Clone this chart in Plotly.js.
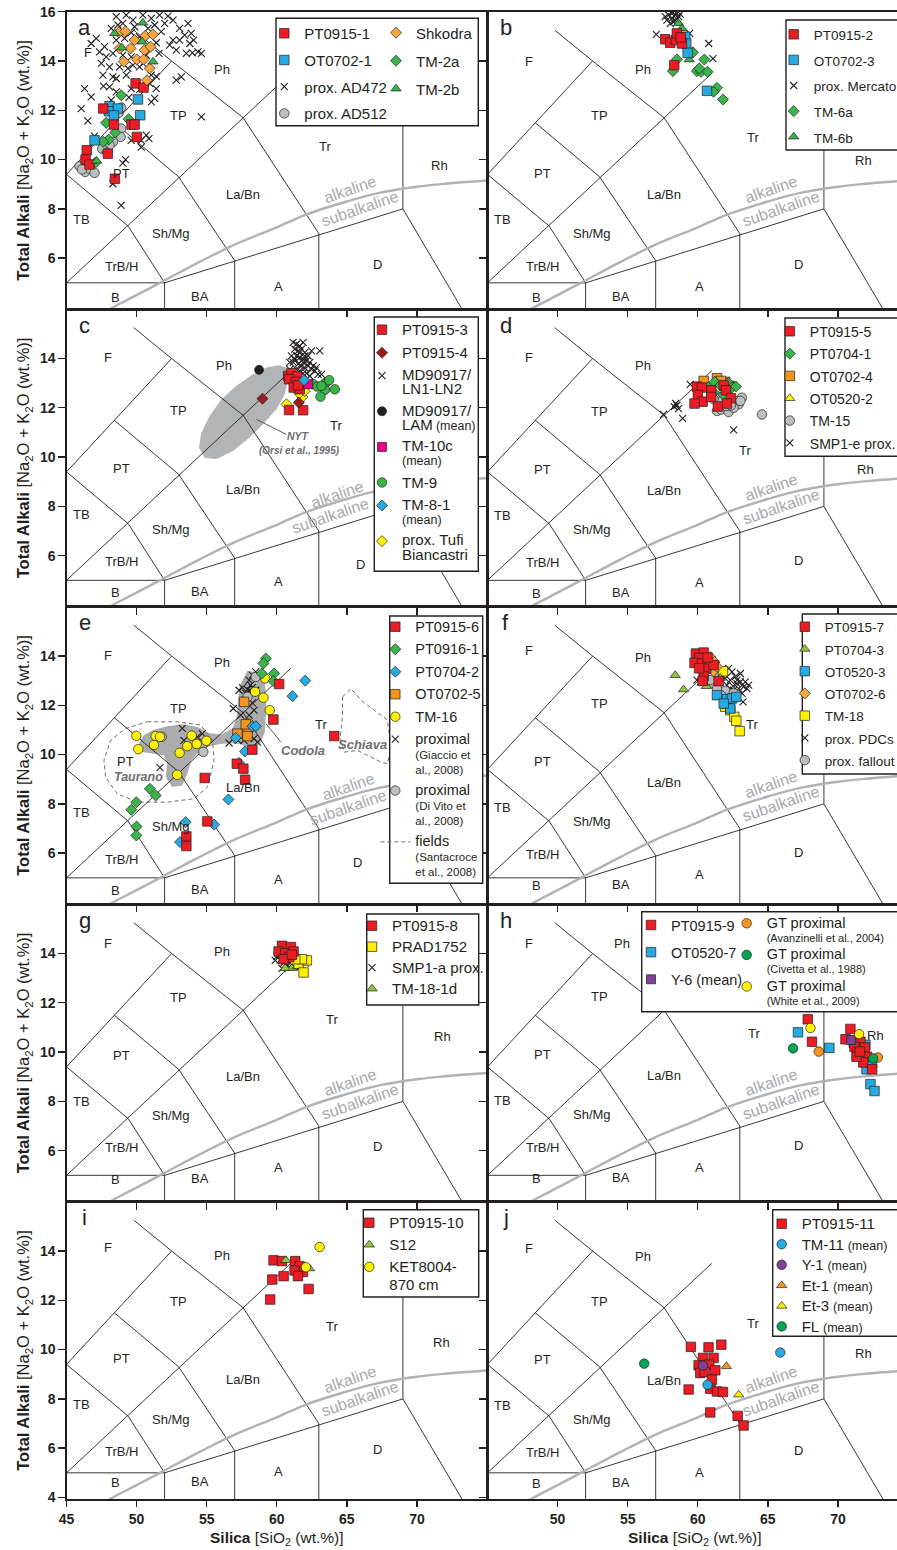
<!DOCTYPE html>
<html><head><meta charset="utf-8">
<script src="https://cdn.plot.ly/plotly-3.0.1.min.js"></script>
<style>html,body{margin:0;padding:0;overflow:hidden;background:#fff}#chart{width:930px;height:1550px}</style>
</head><body><div id="chart"></div>
<script>
// ===================== TAS template (Le Bas et al., 1986) =====================
const TAS_X = [45,49.4,52,null, 45,61,null, 45,52,69,null, 52,52,null, 57,57,null, 63,63,null, 69,69,null, 69,77.3,null, 45,48.4,52.5,49.8,null, 48.4,53,57,null, 52.5,57.6,63];
const TAS_Y = [9.4,7.3,5,null, 5,13.5,null, 5,5,8,null, 0,5,null, 0,5.9,null, 0,7,null, 8,13,null, 8,0,null, 9.4,11.5,14,15.25,null, 11.5,9.3,5.9,null, 14,11.7,7];
// alkaline / subalkaline divide
const ALK_X = [47.5,48.3,50,52,54.5,57,60,62,65,67.3,70,72,75,77];
const ALK_Y = [3.75,4.0,4.5,5.1,5.85,6.55,7.25,7.75,8.3,8.65,8.9,9.02,9.15,9.22];
const FIELD_NAMES = ['F','Ph','TP','PT','TB','Sh/Mg','TrB/H','B','BA','A','La/Bn','Tr','Rh','D'];
const FIELD_SIO2  = [47.93,56.12,53.0,48.9,46.1,52.45,48.9,48.48,54.5,60.1,57.6,63.9,71.8,67.2];
const FIELD_ALK   = [13.96,13.64,11.79,9.44,7.58,7.0,5.68,4.42,4.46,4.87,8.6,10.9,9.96,5.76];
const PANEL_LETTERS = ['a','b','c','d','e','f','g','h','i','j'];

// ===================== panel a =====================
const a_PT0915_1 = [[49.93,13.09],[50.5,12.92],[47.62,12.07],[48.38,11.42],[49.64,11.42],[49.86,11.42],[50.02,10.92],[46.45,10.38],[47.95,10.24],[46.36,10.0],[46.64,9.8],[48.45,9.22]];
const a_OT0702_1 = [[50.1,12.44],[48.07,12.17],[48.02,11.96],[48.67,12.07],[48.38,11.79],[50.26,11.8],[47.0,10.78]];
const a_AD472 = [[48.55,15.8],[49.26,15.86],[49.74,15.66],[50.45,15.86],[51.05,15.73],[51.64,15.86],[52.24,15.82],[52.6,15.66],[51.76,15.19],[53.07,15.32],[53.67,15.53],[53.43,15.05],[53.9,15.12],[52.6,14.85],[53.07,14.85],[52.36,14.64],[52.83,14.44],[53.55,14.31],[53.98,14.33],[54.38,14.37],[54.62,14.31],[53.79,14.71],[54.07,14.85],[47.12,14.92],[46.76,14.71],[46.29,12.88],[46.76,12.54],[46.05,12.07],[46.52,11.57],[47.36,14.37],[47.83,14.17],[47.48,13.9],[48.07,13.76],[47.6,13.43],[48.31,13.36],[47.64,12.98],[48.07,12.95],[48.55,12.75],[49.45,12.52],[49.62,12.88],[50.21,12.84],[51.4,12.88],[51.29,12.48],[51.05,12.34],[49.62,10.78],[50.33,10.51],[50.69,10.99],[50.88,10.85],[50.33,10.78],[49.21,10.0],[49.02,9.86],[48.31,9.02],[48.9,8.14],[47.0,10.95],[52.83,13.22],[53.19,13.36],[54.62,11.73],[50.93,13.09],[49.98,13.15],[51.05,13.43],[51.4,13.38],[49.26,13.43],[48.79,13.76],[49.38,13.7],[49.74,13.83],[50.21,13.76],[48.31,14.31],[49.02,14.24],[49.62,14.17],[50.69,14.24],[50.45,13.9],[48.55,14.85],[49.14,14.92],[50.21,14.98],[50.81,15.32],[49.86,15.39],[49.02,15.53],[48.19,15.32],[47.71,14.58],[48.67,15.46],[49.62,15.15],[51.29,15.46],[52.0,15.53],[51.4,14.74],[51.6,14.31],[48.55,13.29],[48.19,12.41]];
const a_AD512 = [[48.9,12.11],[48.71,11.89],[48.9,11.26],[48.86,10.92],[48.31,10.72],[48.07,10.58],[47.55,10.44],[45.93,9.73],[46.33,9.5],[46.64,9.63],[47.0,9.46],[46.1,9.6]];
const a_Shkodra = [[48.74,15.16],[49.2,15.2],[50.62,15.02],[51.17,15.08],[49.86,14.85],[48.79,14.51],[49.57,14.51],[50.57,14.44],[51.0,14.58],[49.1,13.97],[50.02,14.06],[50.5,14.06],[50.93,13.7],[50.74,13.22]];
const a_TM_2a = [[48.9,12.61],[49.43,11.64],[47.83,11.49],[48.48,11.1],[48.0,10.81],[47.62,10.72],[47.88,10.3],[47.07,9.88]];
const a_TM_2b = [[50.45,15.55],[48.43,15.12],[50.4,14.78],[51.17,13.97],[48.95,14.54],[47.15,9.95]];
// ===================== panel b =====================
const b_PT0915_2 = [[57.68,14.88],[58.04,14.74],[58.44,14.85],[58.87,14.71],[58.51,15.12],[58.78,14.96],[58.32,13.83]];
const b_OT0702_3 = [[59.11,14.98],[59.18,14.71],[59.28,14.33],[60.66,12.79]];
const b_Mercato = [[57.68,15.8],[57.92,15.86],[58.16,15.73],[58.39,15.86],[58.63,15.8],[58.27,15.59],[58.04,15.53],[58.51,15.93],[58.23,15.96],[58.75,15.9],[57.8,15.66],[58.39,15.66],[58.1,15.95],[58.5,15.7],[57.04,15.08],[60.78,14.71],[61.08,14.1],[59.42,15.12]];
const b_TM_6a = [[58.51,14.06],[59.66,14.35],[60.47,14.06],[59.94,13.59],[60.23,13.56],[60.7,13.56],[60.11,13.7],[58.23,13.59],[61.37,12.91],[61.13,12.75],[61.8,12.44]];
const b_TM_6b = [[59.39,14.06],[58.63,15.53],[58.87,15.32]];
// ===================== panel c =====================
const c_PT0915_3 = [[60.81,13.29],[61.05,13.4],[61.45,13.27],[60.88,13.16],[61.36,13.05],[61.21,12.82],[61.64,12.75],[60.88,11.91],[61.88,11.9],[61.52,12.91]];
const c_PT0915_4 = [[58.98,12.37],[61.57,12.21]];
const c_LN = [[61.17,14.65],[61.4,14.58],[61.64,14.51],[61.88,14.65],[61.29,14.38],[61.52,14.31],[61.76,14.38],[62.0,14.24],[62.48,14.31],[63.07,14.31],[61.05,14.11],[61.4,14.11],[61.64,14.04],[61.88,13.97],[62.12,13.9],[62.36,13.84],[61.17,13.84],[61.52,13.77],[61.76,13.7],[62.0,13.63],[62.24,13.7],[62.48,13.56],[62.71,13.5],[62.95,13.36],[60.93,13.56],[61.4,13.56],[61.64,13.5],[61.88,13.4],[62.12,13.4],[62.36,13.29],[61.29,13.97],[61.64,14.24],[62.0,14.11],[62.24,14.11],[62.6,13.7],[62.83,13.63],[63.19,13.36],[60.93,13.84],[61.88,13.84]];
const c_LAM = [[58.74,13.54]];
const c_TM_10c = [[62.24,12.96]];
const c_TM_9 = [[62.6,12.96],[62.9,12.86],[63.5,13.02],[63.74,13.12],[63.43,12.73],[64.14,12.75],[63.12,12.45],[63.19,12.89]];
const c_TM_8_1 = [[61.95,13.12]];
const c_Tufi = [[60.69,12.14],[61.83,12.44],[61.6,12.59],[62.0,12.68]];
const NYT_X = [60.69,60.1,59.26,58.31,57.12,56.05,55.21,54.62,54.45,54.86,55.69,56.88,58.07,59.02,59.98,60.57,60.81,60.69];
const NYT_Y = [13.63,13.73,13.63,13.36,12.89,12.35,11.67,10.99,10.38,9.97,9.91,10.25,10.79,11.33,11.94,12.55,13.16,13.63];
const NYT_LEADER_X = [58.55,60.69];
const NYT_LEADER_Y = [11.53,10.92];
// ===================== panel d =====================
const d_PT0915_5 = [[59.94,12.86],[60.3,12.82],[60.01,12.52],[60.35,12.25],[59.77,12.17],[60.96,12.71],[60.96,12.44],[61.44,12.05],[61.85,12.91],[62.01,12.71],[62.37,12.39],[62.08,12.17]];
const d_PT0704_1 = [[60.73,12.82],[61.2,13.05],[61.61,12.91],[61.85,12.52],[62.2,13.0],[62.44,12.82],[62.73,12.86],[61.13,12.62]];
const d_OT0702_4 = [[60.42,13.09],[61.37,13.2],[61.96,13.05],[61.66,13.09],[62.27,12.89]];
const d_OT0520_2 = [[62.44,12.91],[61.25,13.09],[62.08,13.03]];
const d_TM_15 = [[61.49,12.45],[61.37,11.87],[61.66,11.93],[62.2,11.83],[62.04,12.07],[62.68,12.28],[62.92,12.14],[63.15,12.41],[63.04,12.28],[62.56,12.0],[61.73,12.28],[61.13,12.35],[62.37,12.1],[64.58,11.73]];
const d_SMP1e = [[59.46,12.95],[58.51,12.1],[58.32,12.05],[58.63,11.97],[58.42,12.18],[57.56,11.73],[58.92,11.57],[62.56,11.1]];
// ===================== panel e =====================
const e_PT0915_6 = [[60.17,12.86],[59.76,11.42],[64.1,10.75],[58.26,10.2],[57.15,9.63],[57.62,9.43],[57.74,8.98],[54.86,9.05],[55.05,7.29],[53.55,6.68],[53.55,6.29]];
const e_PT0916_1 = [[59.22,13.9],[59.05,13.7],[58.93,13.29],[59.81,13.29],[59.76,12.98],[50.95,8.61],[51.36,8.34],[49.98,8.07],[49.62,7.76],[50.0,7.08],[49.98,6.72]];
const e_PT0704_2 = [[62.03,13.0],[61.12,12.37],[57.07,10.68],[58.26,11.15],[58.5,11.15],[57.74,10.13],[56.55,8.18],[55.53,7.16],[53.5,7.26],[53.1,6.45],[57.31,9.66]];
const e_OT0702_5 = [[57.67,12.14],[57.19,10.85],[57.91,11.06],[57.91,10.75],[57.79,11.23]];
const e_TM_16 = [[59.17,13.09],[58.45,12.55],[59.05,12.31],[59.5,11.8],[58.0,11.26],[58.1,11.06],[49.98,10.76],[51.36,10.75],[51.67,10.72],[50.12,10.22],[51.24,10.39],[53.93,10.77],[53.62,10.34],[54.29,10.43],[54.98,10.56],[53.07,10.07],[52.9,9.18]];
const e_Giaccio = [[57.31,12.61],[57.55,12.72],[57.91,12.64],[58.14,12.82],[58.03,13.02],[58.26,13.22],[58.5,13.36],[57.79,12.48],[56.9,11.87],[58.26,12.1],[58.38,11.8],[58.03,11.6],[57.43,11.6],[57.67,10.58],[58.38,10.65],[58.62,10.51],[56.6,10.47],[57.24,10.58],[53.26,11.06],[54.69,10.85],[53.38,10.58],[54.34,10.72],[51.67,9.47],[58.1,12.59],[58.26,12.72],[58.5,12.61]];
const e_DiVito = [[58.5,13.15],[57.91,12.34],[54.76,10.11],[51.79,10.72]];
const CODOLA_X = [57.91,58.74,59.17,59.26,59.15,58.81,58.1,57.38,56.67,55.88,55.17,54.45,53.9,53.62,53.26,52.55,52.07,52.19,51.95,51.12,50.41,50.17,50.53,51.24,52.19,53.26,54.34,55.17,56.0,56.83,57.15,57.24,57.38,57.91];
const CODOLA_Y = [13.4,13.32,12.88,11.94,10.92,10.42,10.28,10.42,10.47,10.42,10.34,10.11,9.77,9.22,8.75,8.68,9.09,9.63,9.97,10.04,10.11,10.45,10.79,11.01,11.15,11.23,11.12,10.88,10.82,11.05,11.53,12.2,12.82,13.4];
const TAURANO_X = [50.76,52.9,54.57,55.41,55.53,55.05,54.1,52.19,50.05,48.62,47.79,47.67,48.15,49.22,50.76];
const TAURANO_Y = [11.33,11.33,11.2,10.58,9.77,8.68,8.21,8.07,8.07,8.41,9.09,9.77,10.58,11.06,11.33];
const SCHIAVA_X = [64.69,65.29,66.0,66.95,67.9,68.14,67.9,67.43,65.76,64.81,64.53,64.69,64.69];
const SCHIAVA_Y = [12.34,12.68,12.21,11.8,11.4,10.31,9.63,9.7,10.17,10.1,10.71,11.53,12.34];
const CODOLA_LEADER_X = [59.22,60.29];
const CODOLA_LEADER_Y = [11.26,10.51];
// ===================== panel f =====================
const f_PT0915_7 = [[59.87,14.1],[60.42,14.14],[60.11,13.92],[59.77,13.72],[60.3,13.7],[60.61,13.49],[61.13,13.63],[60.42,13.18],[60.35,12.99],[61.49,12.98],[60.7,13.94],[60.1,13.5]];
const f_PT0704_3 = [[58.39,13.22],[58.99,12.64],[60.61,12.77],[61.6,13.1]];
const f_OT0520_3 = [[61.37,12.41],[62.08,12.25],[62.44,12.28],[62.32,11.87],[61.85,12.07],[62.75,12.34]];
const f_OT0702_6 = [[60.89,13.96],[61.2,13.76],[61.13,13.38],[61.37,13.56],[60.8,13.7]];
const f_TM_18 = [[61.8,13.38],[61.96,11.94],[62.32,11.8],[62.61,11.53],[62.75,11.37],[62.99,10.95],[62.08,12.07]];
const f_PDCs = [[62.2,13.5],[62.44,13.36],[62.68,13.16],[62.8,12.88],[63.04,12.95],[63.27,12.75],[63.51,12.68],[63.16,12.48],[62.56,12.61],[62.32,13.02],[61.96,13.09],[62.92,12.68],[63.63,12.82],[63.39,12.95],[63.23,12.14],[59.94,13.02],[60.18,12.95],[61.73,13.22],[62.08,12.82],[62.8,13.02],[63.04,13.29],[62.51,12.78]];
const f_fallout = [[61.13,12.88],[61.49,13.16],[61.96,12.59],[61.66,12.41],[61.37,12.68],[60.89,13.02],[62.56,12.48]];
// ===================== panel g =====================
const g_PT0915_8 = [[60.37,14.31],[61.01,14.26],[60.13,14.08],[60.6,14.01],[61.2,14.08],[60.89,13.85],[60.49,13.77],[61.08,13.95]];
const g_PRAD1752 = [[61.56,13.58],[61.91,13.23],[62.15,13.72],[61.79,13.77],[61.32,13.77]];
const g_SMP1a = [[60.01,13.88],[60.25,13.74],[60.49,13.61],[60.72,13.54],[60.2,13.95],[60.96,13.61],[61.32,13.54],[61.68,13.47],[60.37,13.4],[62.03,13.61],[59.89,13.72]];
const g_TM_18_1d = [[61.08,13.4],[60.6,13.4],[61.44,13.47]];
// ===================== panel h =====================
const h_PT0915_9 = [[67.85,11.33],[68.15,10.42],[70.89,10.94],[70.54,10.52],[71.61,10.42],[71.18,10.22],[71.92,10.19],[71.37,9.98],[72.08,9.81],[71.8,9.58],[72.44,9.3],[71.32,9.81],[71.56,10.02]];
const h_OT0520_7 = [[67.15,10.8],[69.39,10.17],[71.96,10.29],[72.04,9.3],[72.32,8.7],[72.61,8.42],[72.44,9.54],[71.13,10.38]];
const h_Y6 = [[70.94,10.49]];
const h_GT_Avanzinelli = [[68.63,10.02],[72.85,9.78]];
const h_GT_Civetta = [[66.8,10.15],[72.51,9.74]];
const h_GT_White = [[68.04,10.98],[71.51,10.73]];
// ===================== panel i =====================
const i_PT0915_10 = [[59.77,13.62],[60.37,13.59],[61.32,13.59],[61.63,13.38],[61.87,13.15],[61.27,13.21],[61.51,12.98],[60.49,12.98],[59.68,12.84],[59.53,12.03],[62.27,12.46]];
const i_S12 = [[60.65,13.62],[62.34,13.29]];
const i_KET8004 = [[63.06,14.16],[62.08,13.34]];
// ===================== panel j =====================
const j_PT0915_11 = [[59.51,10.11],[60.77,10.09],[61.68,10.2],[60.37,9.66],[61.13,9.66],[60.06,9.36],[60.82,9.39],[61.25,9.16],[60.18,9.05],[60.49,9.09],[61.01,8.78],[60.89,8.41],[61.37,8.3],[61.8,8.28],[59.35,8.38],[60.89,7.45],[62.85,7.31],[63.27,6.92]];
const j_TM_11 = [[65.89,9.88],[60.7,8.57]];
const j_Y1 = [[60.37,9.35]];
const j_Et1 = [[62.04,9.32]];
const j_Et3 = [[62.92,8.17]];
const j_FL = [[56.18,9.43]];

// ===================== styling / layout constants =====================
const W = 930, H = 1550;
const FONT = 'Liberation Sans, Arial, Helvetica, sans-serif';
const INK = '#231f20';
const COL_L = [66.5, 487.5], COL_R = [487, 902];
const PXU = 14.017;
const ROW_TOP = [11.7, 309.2, 606.7, 904.2, 1201.7], ROW_H = 297.5;
const Y_RANGE = [3.93, 16];

const STYLE = {
  redSq:{symbol:'square',color:'#ed1c24',size:9.5}, blueSq:{symbol:'square',color:'#27aae1',size:9.5},
  orangeSq:{symbol:'square',color:'#f7941d',size:9.5}, yellowSq:{symbol:'square',color:'#fff200',size:9.5},
  pinkSq:{symbol:'square',color:'#ec008c',size:9}, purpleSq:{symbol:'square',color:'#7f3f98',size:9},
  greenDi:{symbol:'diamond',color:'#39b54a',size:8.5}, orangeDi:{symbol:'diamond',color:'#f7a541',size:8.5},
  blueDi:{symbol:'diamond',color:'#27aae1',size:8.5}, yellowDi:{symbol:'diamond',color:'#fff200',size:8.5},
  darkredDi:{symbol:'diamond',color:'#9b1c1f',size:8.5},
  grayCi:{symbol:'circle',color:'#bcbec0',size:9.5}, yellowCi:{symbol:'circle',color:'#fff200',size:9.5},
  greenCi:{symbol:'circle',color:'#39b54a',size:9.5}, dkgreenCi:{symbol:'circle',color:'#00a651',size:9.5},
  orangeCi:{symbol:'circle',color:'#f7941d',size:9.5}, blueCi:{symbol:'circle',color:'#29abe2',size:9.5},
  purpleCi:{symbol:'circle',color:'#7f3f98',size:9.5}, blackCi:{symbol:'circle',color:'#231f20',size:9},
  greenTri:{symbol:'triangle-up',color:'#39b54a',size:9}, lgreenTri:{symbol:'triangle-up',color:'#8dc63f',size:9},
  yellowTri:{symbol:'triangle-up',color:'#fff200',size:9}, orangeTri:{symbol:'triangle-up',color:'#f7941d',size:9},
  cross:{symbol:'x-thin',color:INK,size:7,cross:true}
};

// legends: marker position of first entry (px), base font size, group gap, main text size, x nudge
const LEGENDS = {
  La1:{id:'legend',  m:[288.3,33.3],  fs:15,   gap:4.2, ms:15},
  La2:{id:'legend2', m:[400,32.7],    fs:15,   gap:5.5, ms:15},
  Lb: {id:'legend3', m:[801.7,34.3],  fs:15,   gap:3.1, ms:13.5, dx:-4},
  Lc: {id:'legend4', m:[386,329.7],   fs:11,   gap:4,   ms:15},
  Ld: {id:'legend5', m:[797.3,331.3], fs:14.85,gap:0,   ms:14, dx:-3.5},
  Le: {id:'legend6', m:[399.3,626.7], fs:11.5, gap:3.5, ms:14.5},
  Lf: {id:'legend7', m:[812.3,626.7], fs:14.8, gap:0,   ms:13.5, dx:-3.5},
  Lg: {id:'legend8', m:[376,925.7],   fs:13.85,gap:0,   ms:15},
  Lh1:{id:'legend9', m:[655,925],     fs:14.5, gap:5.3, ms:14.5},
  Lh2:{id:'legend10',m:[750.7,923.3], fs:11,   gap:0,   ms:14.5},
  Li: {id:'legend11',m:[373.3,1222.7],fs:13.5, gap:1.5, ms:15},
  Lj: {id:'legend12',m:[785.7,1223.7],fs:13.5, gap:0,   ms:15}
};
const LEGEND_BOXES = [[276,18.3,478.3,125.7],[786,20,935,150],[374.3,317,478.3,571.3],[785,318,935,456.3],
  [389.7,616,482.7,883.3],[802.3,614,935,774],[366.7,914,478.7,1005],[641.7,911.7,935,1011.7],
  [363.3,1209.7,478.7,1297],[772.7,1209.7,935,1336.3]];

const big = (t, lg) => `<span style="font-size:${LEGENDS[lg].ms}px">${t}</span>`;
const sm = (t, s) => `<span style="font-size:${s}px">${t}</span>`;

// series in drawing order: panel, legend name, data, style, legend, rank
const SERIES = [
  [0,big('prox. AD472','La1'),a_AD472,'cross','La1',3],
  [0,big('prox. AD512','La1'),a_AD512,'grayCi','La1',4],
  [0,big('TM-2a','La2'),a_TM_2a,'greenDi','La2',2],
  [0,big('OT0702-1','La1'),a_OT0702_1,'blueSq','La1',2],
  [0,big('PT0915-1','La1'),a_PT0915_1,'redSq','La1',1],
  [0,big('Shkodra','La2'),a_Shkodra,'orangeDi','La2',1],
  [0,big('TM-2b','La2'),a_TM_2b,'greenTri','La2',3],

  [1,big('prox. Mercato','Lb'),b_Mercato,'cross','Lb',3],
  [1,big('TM-6a','Lb'),b_TM_6a,'greenDi','Lb',4],
  [1,big('TM-6b','Lb'),b_TM_6b,'greenTri','Lb',5],
  [1,big('OT0702-3','Lb'),b_OT0702_3,'blueSq','Lb',2],
  [1,big('PT0915-2','Lb'),b_PT0915_2,'redSq','Lb',1],

  [2,big('MD90917/','Lc')+'<br>'+big('LN1-LN2','Lc'),c_LN,'cross','Lc',3],
  [2,big('TM-9','Lc'),c_TM_9,'greenCi','Lc',6],
  [2,big('prox. Tufi','Lc')+'<br>'+big('Biancastri','Lc'),c_Tufi,'yellowDi','Lc',8],
  [2,big('PT0915-3','Lc'),c_PT0915_3,'redSq','Lc',1],
  [2,big('PT0915-4','Lc'),c_PT0915_4,'darkredDi','Lc',2],
  [2,big('MD90917/','Lc')+'<br>'+big('LAM','Lc')+' '+sm('(mean)',12.5),c_LAM,'blackCi','Lc',4],
  [2,big('TM-10c','Lc')+'<br>'+sm('(mean)',12.5),c_TM_10c,'pinkSq','Lc',5],
  [2,big('TM-8-1','Lc')+'<br>'+sm('(mean)',12.5),c_TM_8_1,'blueDi','Lc',7],

  [3,big('TM-15','Ld'),d_TM_15,'grayCi','Ld',5],
  [3,big('SMP1-e prox.','Ld'),d_SMP1e,'cross','Ld',6],
  [3,big('OT0702-4','Ld'),d_OT0702_4,'orangeSq','Ld',3],
  [3,big('OT0520-2','Ld'),d_OT0520_2,'yellowTri','Ld',4],
  [3,big('PT0704-1','Ld'),d_PT0704_1,'greenDi','Ld',2],
  [3,big('PT0915-5','Ld'),d_PT0915_5,'redSq','Ld',1],

  [4,big('proximal','Le')+'<br>(Giaccio et<br>al., 2008)',e_Giaccio,'cross','Le',6],
  [4,big('proximal','Le')+'<br>(Di Vito et<br>al., 2008)',e_DiVito,'grayCi','Le',7],
  [4,big('TM-16','Le'),e_TM_16,'yellowCi','Le',5],
  [4,big('OT0702-5','Le'),e_OT0702_5,'orangeSq','Le',4],
  [4,big('PT0704-2','Le'),e_PT0704_2,'blueDi','Le',3],
  [4,big('PT0916-1','Le'),e_PT0916_1,'greenDi','Le',2],
  [4,big('PT0915-6','Le'),e_PT0915_6,'redSq','Le',1],

  [5,big('prox. PDCs','Lf'),f_PDCs,'cross','Lf',6],
  [5,big('prox. fallout','Lf'),f_fallout,'grayCi','Lf',7],
  [5,big('TM-18','Lf'),f_TM_18,'yellowSq','Lf',5],
  [5,big('OT0520-3','Lf'),f_OT0520_3,'blueSq','Lf',3],
  [5,big('PT0704-3','Lf'),f_PT0704_3,'lgreenTri','Lf',2],
  [5,big('OT0702-6','Lf'),f_OT0702_6,'orangeDi','Lf',4],
  [5,big('PT0915-7','Lf'),f_PT0915_7,'redSq','Lf',1],

  [6,big('SMP1-a prox.','Lg'),g_SMP1a,'cross','Lg',3],
  [6,big('TM-18-1d','Lg'),g_TM_18_1d,'lgreenTri','Lg',4],
  [6,big('PRAD1752','Lg'),g_PRAD1752,'yellowSq','Lg',2],
  [6,big('PT0915-8','Lg'),g_PT0915_8,'redSq','Lg',1],

  [7,big('OT0520-7','Lh1'),h_OT0520_7,'blueSq','Lh1',2],
  [7,big('PT0915-9','Lh1'),h_PT0915_9,'redSq','Lh1',1],
  [7,big('Y-6 (mean)','Lh1'),h_Y6,'purpleSq','Lh1',3],
  [7,big('GT proximal','Lh2')+'<br>(Avanzinelli et al., 2004)',h_GT_Avanzinelli,'orangeCi','Lh2',1],
  [7,big('GT proximal','Lh2')+'<br>(Civetta et al., 1988)',h_GT_Civetta,'dkgreenCi','Lh2',2],
  [7,big('GT proximal','Lh2')+'<br>(White et al., 2009)',h_GT_White,'yellowCi','Lh2',3],

  [8,big('PT0915-10','Li'),i_PT0915_10,'redSq','Li',1],
  [8,big('S12','Li'),i_S12,'lgreenTri','Li',2],
  [8,big('KET8004-','Li')+'<br>'+big('870 cm','Li'),i_KET8004,'yellowCi','Li',3],

  [9,big('PT0915-11','Lj'),j_PT0915_11,'redSq','Lj',1],
  [9,big('TM-11','Lj')+' '+sm('(mean)',12.5),j_TM_11,'blueCi','Lj',2],
  [9,big('Y-1','Lj')+' '+sm('(mean)',12.5),j_Y1,'purpleCi','Lj',3],
  [9,big('Et-1','Lj')+' '+sm('(mean)',12.5),j_Et1,'orangeTri','Lj',4],
  [9,big('Et-3','Lj')+' '+sm('(mean)',12.5),j_Et3,'yellowTri','Lj',5],
  [9,big('FL','Lj')+' '+sm('(mean)',12.5),j_FL,'dkgreenCi','Lj',6]
];

const LABEL_DY = [0,0,0.08,0.06,0.08,0.28,0.43,0.45,0.18,0.15];
const LABEL_MOVE = [
  {F:[46.55,14.35],Tr:[63.45,10.52],Rh:[71.64,9.77]},
  {Tr:[63.95,10.91]},
  {Ph:[56.24,13.7],Tr:[64.2,11.3],D:[65.94,5.63],Rh:null},
  {Tr:[63.4,10.25],Rh:[71.96,9.5]},
  {PT:[49.2,9.7],Tr:[63.15,11.23],D:[65.76,5.64],Rh:null},
  {Tr:[63.9,11.23],Rh:null},
  {Tr:[63.94,11.33],Rh:[71.79,10.63]},
  {Ph:[54.63,14.42],Tr:[64.04,10.76],Rh:[72.68,10.67]},
  {Tr:[63.94,10.95],Rh:[71.75,10.27]},
  {Tr:[63.92,11.05],Rh:[71.85,9.83]}
];
const ALK_LABEL_POS = {def:[[65.2,8.78],[65.95,8.0]], 2:[[64.3,8.49],[63.83,7.65]], 4:[[65.1,8.72],[65.05,7.87]]};

// ===================== build figure =====================
const axId = p => p === 0 ? ['x','y'] : ['x'+(p+1),'y'+(p+1)];
const traces = [];
const layout = {
  width:W, height:H, margin:{l:0,r:0,t:0,b:0}, paper_bgcolor:'#ffffff', plot_bgcolor:'rgba(0,0,0,0)',
  font:{family:FONT,color:INK}, showlegend:true, annotations:[], shapes:[]
};

function panelBackground(p){
  const [xa,ya] = axId(p);
  const base = {xaxis:xa, yaxis:ya, showlegend:false, hoverinfo:'skip'};
  if (p === 2){
    traces.push(Object.assign({type:'scatter',mode:'lines',x:NYT_X,y:NYT_Y,fill:'toself',fillcolor:'#b3b4b6',line:{width:0,color:'#b3b4b6'}},base));
  }
  if (p === 4){
    traces.push(Object.assign({type:'scatter',mode:'lines',x:CODOLA_X,y:CODOLA_Y,fill:'toself',fillcolor:'#abacae',line:{width:0,color:'#abacae'}},base));
    traces.push({type:'scatter',mode:'lines',x:TAURANO_X,y:TAURANO_Y,xaxis:xa,yaxis:ya,line:{color:'#6d6e71',width:1,dash:'4px,3px'},
      name:big('fields','Le')+'<br>(Santacroce<br>et al., 2008)',legend:'legend6',legendgroup:'Le_8',legendrank:8,showlegend:true,hoverinfo:'skip'});
    traces.push(Object.assign({type:'scatter',mode:'lines',x:SCHIAVA_X,y:SCHIAVA_Y,line:{color:'#6d6e71',width:1,dash:'4px,3px'}},base));
  }
  traces.push(Object.assign({type:'scatter',mode:'lines',x:TAS_X,y:TAS_Y,line:{color:INK,width:0.9},connectgaps:false},base));
  traces.push(Object.assign({type:'scatter',mode:'lines',x:ALK_X,y:ALK_Y,line:{color:'#b1b2b4',width:2.4,shape:'spline'}},base));
  if (p === 2) traces.push(Object.assign({type:'scatter',mode:'lines',x:NYT_LEADER_X,y:NYT_LEADER_Y,line:{color:'#58595b',width:1}},base));
  if (p === 4) traces.push(Object.assign({type:'scatter',mode:'lines',x:CODOLA_LEADER_X,y:CODOLA_LEADER_Y,line:{color:'#58595b',width:1}},base));
}
for (let p = 0; p < 10; p++){
  panelBackground(p);
  SERIES.filter(s => s[0] === p).forEach(s => {
    const [, name, data, st, lg, rk] = s;
    const S = STYLE[st], [xa,ya] = axId(p);
    const marker = S.cross
      ? {symbol:S.symbol,size:S.size,color:INK,line:{color:INK,width:1.1}}
      : {symbol:S.symbol,size:S.size,color:S.color,line:{color:INK,width:0.7}};
    traces.push({type:'scatter',mode:'markers',x:data.map(v=>v[0]),y:data.map(v=>v[1]),xaxis:xa,yaxis:ya,
      name:name,marker:marker,legend:LEGENDS[lg].id,legendgroup:lg+'_'+rk,legendrank:rk,showlegend:true,hoverinfo:'skip',cliponaxis:true});
  });
}

// axes
for (let p = 0; p < 10; p++){
  const row = p >> 1, col = p & 1;
  const sfx = p === 0 ? '' : String(p+1);
  const xr = [45, 45 + (COL_R[col]-COL_L[col])/PXU];
  const xa = {domain:[COL_L[col]/W, COL_R[col]/W], range:xr, anchor:'y'+sfx, showgrid:false, zeroline:false,
    showline:true, mirror:true, linecolor:INK, linewidth:1.6, ticks:'outside', ticklen:6.5, tickwidth:1.4, tickcolor:INK,
    tickvals: col === 0 ? [45,50,55,60,65,70] : [50,55,60,65,70], showticklabels: row === 4,
    tickfont:{family:FONT,size:14,color:INK,weight:'bold'}};
  if (row === 4) xa.title = {text:'<b>Silica</b> [SiO<sub>2</sub> (wt.%)]', font:{family:FONT,size:15.5,color:INK}, standoff:6};
  const yv = row === 0 ? [6,8,10,12,14,16] : row === 4 ? [4,6,8,10,12,14] : [6,8,10,12,14];
  const ya = {domain:[1-(ROW_TOP[row]+ROW_H)/H, 1-ROW_TOP[row]/H], range:Y_RANGE, anchor:'x'+sfx, showgrid:false, zeroline:false,
    showline:true, mirror:true, linecolor:INK, linewidth:1.6, ticks:'outside', ticklen:6.5, tickwidth:1.4, tickcolor:INK,
    tickvals:yv, showticklabels: col === 0, tickfont:{family:FONT,size:14,color:INK,weight:'bold'}};
  if (col === 0) ya.title = {text:'<b>Total Alkali</b> [Na<sub>2</sub>O + K<sub>2</sub>O (wt.%)]', font:{family:FONT,size:16.5,color:INK}, standoff:6};
  layout['xaxis'+sfx] = xa;
  layout['yaxis'+sfx] = ya;
}

// legends
Object.keys(LEGENDS).forEach(k => {
  const L = LEGENDS[k];
  const left = L.m[0] - 24 + (L.dx || 0);
  const top = L.m[1] - 5 - (1.3*L.fs + 3)/2;
  layout[L.id] = {x:left/W, y:1-top/H, xanchor:'left', yanchor:'top', xref:'paper', yref:'paper',
    bgcolor:'rgba(0,0,0,0)', borderwidth:0, font:{family:FONT,size:L.fs,color:INK},
    tracegroupgap:L.gap, valign:'top', traceorder:'grouped', itemclick:false, itemdoubleclick:false};
});
LEGEND_BOXES.forEach(b => layout.shapes.push({type:'rect',xref:'paper',yref:'paper',x0:b[0]/W,x1:b[2]/W,y0:1-b[3]/H,y1:1-b[1]/H,
  fillcolor:'#ffffff',line:{color:INK,width:1.4},layer:'above'}));

// annotations
for (let p = 0; p < 10; p++){
  const [xa,ya] = axId(p);
  const mv = LABEL_MOVE[p];
  FIELD_NAMES.forEach((nm, k) => {
    let pos = [FIELD_SIO2[k], FIELD_ALK[k] + LABEL_DY[p]];
    if (nm in mv){ if (mv[nm] === null) return; pos = mv[nm]; }
    layout.annotations.push({xref:xa,yref:ya,x:pos[0],y:pos[1],text:nm,showarrow:false,font:{family:FONT,size:13,color:INK}});
  });
  const al = ALK_LABEL_POS[p] || ALK_LABEL_POS.def;
  layout.annotations.push({xref:xa,yref:ya,x:al[0][0],y:al[0][1],text:'alkaline',textangle:-19,showarrow:false,font:{family:FONT,size:16,color:'#a8a9ab'}});
  layout.annotations.push({xref:xa,yref:ya,x:al[1][0],y:al[1][1],text:'subalkaline',textangle:-19,showarrow:false,font:{family:FONT,size:16,color:'#a8a9ab'}});
  layout.annotations.push({xref:xa,yref:ya,x:46.3,y:15.35,text:PANEL_LETTERS[p],showarrow:false,font:{family:FONT,size:22,color:INK}});
}
const GREY_TXT = '#6d6e71';
layout.annotations.push({xref:'x3',yref:'y3',x:61.52,y:10.85,text:'<b><i>NYT</i></b>',showarrow:false,font:{family:FONT,size:10.5,color:GREY_TXT}});
layout.annotations.push({xref:'x3',yref:'y3',x:61.64,y:10.28,text:'<b><i>(Orsi et al., 1995)</i></b>',showarrow:false,font:{family:FONT,size:10,color:GREY_TXT}});
layout.annotations.push({xref:'x5',yref:'y5',x:50.12,y:9.09,text:'<b><i>Taurano</i></b>',showarrow:false,font:{family:FONT,size:12.5,color:GREY_TXT}});
layout.annotations.push({xref:'x5',yref:'y5',x:61.84,y:10.15,text:'<b><i>Codola</i></b>',showarrow:false,font:{family:FONT,size:13,color:GREY_TXT}});
layout.annotations.push({xref:'x5',yref:'y5',x:68.0,y:10.42,xanchor:'right',text:'<b><i>Schiava</i></b>',showarrow:false,font:{family:FONT,size:13,color:GREY_TXT}});

Plotly.newPlot('chart', traces, layout, {staticPlot:true, displayModeBar:false});
</script>
</body></html>
